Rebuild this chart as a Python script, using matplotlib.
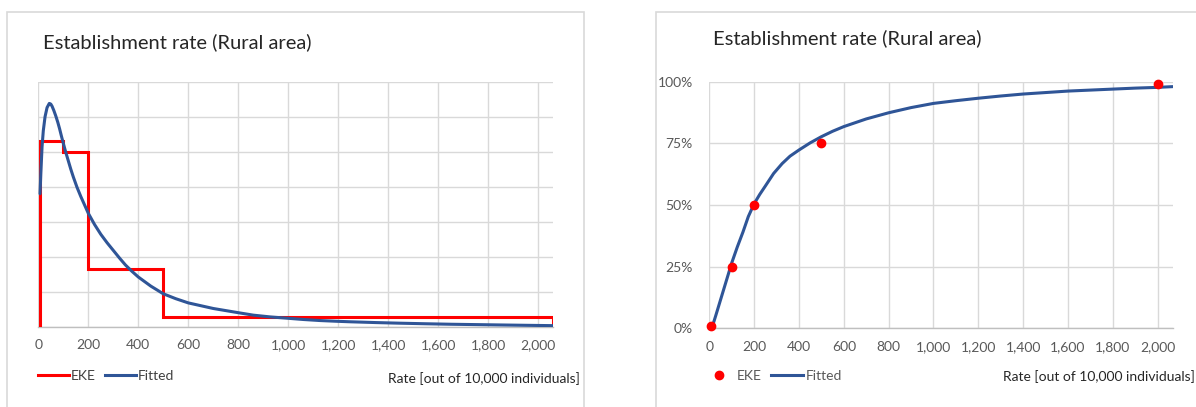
import matplotlib
matplotlib.use("Agg")
import matplotlib.pyplot as plt
from matplotlib.patches import Rectangle
from matplotlib.lines import Line2D
from matplotlib.ticker import FuncFormatter, MultipleLocator

plt.rcParams['font.family'] = ['Lato', 'DejaVu Sans']

# ---------------- data ----------------
title = "Establishment rate (Rural area)"
xlabel = "Rate [out of 10,000 individuals]"

# left panel: EKE histogram (density) and fitted density
eke_edges = [8, 100, 200, 500, 2060]
eke_density = [0.00265, 0.00250, 0.00082, 0.00014]

fit_pdf_x = [7, 10, 15, 20, 27, 35, 44, 50, 55, 62, 70, 78, 85, 92, 100, 110, 120, 130,
             140, 155, 170, 185, 200, 225, 250, 275, 300, 325, 349, 375, 400, 450,
             500, 550, 600, 650, 700, 750, 800, 860, 927, 1000, 1060, 1127, 1190,
             1250, 1350, 1447, 1550, 1650, 1750, 1847, 1950, 2060]
fit_pdf_y = [0.00190, 0.00218, 0.00257, 0.00280, 0.00300, 0.00313, 0.00319, 0.00318,
             0.00315, 0.00309, 0.00301, 0.00292, 0.00283, 0.00273, 0.00262, 0.00249,
             0.00237, 0.00225, 0.00214, 0.00199, 0.00186, 0.00174, 0.00162, 0.00146,
             0.00132, 0.00120, 0.00109, 0.00098, 0.00088, 0.00079, 0.00071, 0.00058,
             0.00047, 0.00040, 0.00034, 0.00030, 0.00026, 0.00023, 0.00020, 0.000165,
             0.000140, 0.000120, 0.000103, 0.000088, 0.000078, 0.000070, 0.000059,
             0.000050, 0.000042, 0.000035, 0.000030, 0.000025, 0.000020, 0.000015]

# right panel: EKE quantiles and fitted CDF
eke_x = [8, 100, 200, 500, 2000]
eke_p = [0.01, 0.25, 0.50, 0.75, 0.99]

fit_cdf_x = [18, 30, 40, 50, 65, 80, 100, 125, 150, 174, 200, 225, 250, 287, 325, 360,
             400, 450, 500, 550, 600, 700, 800, 900, 1000, 1100, 1200, 1300, 1400,
             1500, 1600, 1700, 1800, 1900, 2000, 2067]
fit_cdf_y = [0.02, 0.055, 0.085, 0.115, 0.16, 0.205, 0.265, 0.33, 0.39, 0.453, 0.505,
             0.543, 0.577, 0.628, 0.668, 0.698, 0.723, 0.752, 0.777, 0.799, 0.818,
             0.849, 0.874, 0.895, 0.912, 0.923, 0.933, 0.942, 0.950, 0.956, 0.962,
             0.966, 0.970, 0.974, 0.977, 0.980]

xticks = list(range(0, 2001, 200))
yticks_right = [0, 0.25, 0.5, 0.75, 1.0]

RED = "#FF0000"
BLUE = "#2F5597"
GRID = "#D9D9D9"
TXT = "#595959"

W, H = 1196, 407
fig = plt.figure(figsize=(W / 100, H / 100), dpi=100)

def fx(px):
    return px / W

def fy(py):
    return 1 - py / H

# panel frames
fig.patches.append(Rectangle((fx(7.3), fy(420)), fx(584 - 7.3), (420 - 12.3) / H,
                             transform=fig.transFigure, fill=False, edgecolor=GRID, lw=1.2))
fig.patches.append(Rectangle((fx(656), fy(420)), fx(1210 - 656), (420 - 12.3) / H,
                             transform=fig.transFigure, fill=False, edgecolor=GRID, lw=1.2))

def style_axes(ax):
    for s in ['top', 'right', 'left']:
        ax.spines[s].set_visible(False)
    ax.spines['bottom'].set_color("#BFBFBF")
    ax.spines['bottom'].set_linewidth(1.0)
    ax.grid(True, color=GRID, lw=1.0)
    ax.set_axisbelow(True)
    ax.tick_params(length=0, labelsize=10, labelcolor=TXT, pad=9)
    ax.set_xticks(xticks)
    ax.xaxis.set_major_formatter(FuncFormatter(lambda v, p: f"{int(v):,}"))

# ---------- left ----------
axL = fig.add_axes([fx(38.3), fy(326.7), fx(553.3 - 38.3), (326.7 - 81.7) / H])
style_axes(axL)
axL.set_xlim(0, 2060)
axL.set_ylim(0, 0.0035)
axL.yaxis.set_major_locator(MultipleLocator(0.0005))
axL.tick_params(axis='y', labelleft=False)
axL.stairs(eke_density, eke_edges, baseline=0, fill=False, color=RED, lw=2.2, zorder=3)
axL.plot(fit_pdf_x, fit_pdf_y, color=BLUE, lw=2.2, zorder=4,
         solid_capstyle='round', solid_joinstyle='round')

# ---------- right ----------
axR = fig.add_axes([fx(709.3), fy(328.3), fx(1172.7 - 709.3), (328.3 - 81.7) / H])
style_axes(axR)
axR.set_xlim(0, 2067)
axR.set_ylim(0, 1.0)
axR.set_yticks(yticks_right)
axR.yaxis.set_major_formatter(FuncFormatter(lambda v, p: f"{v:.0%}"))
axR.tick_params(axis='y', pad=12)
axR.plot(fit_cdf_x, fit_cdf_y, color=BLUE, lw=2.2, zorder=3,
         solid_capstyle='round', solid_joinstyle='round')
axR.plot(eke_x, eke_p, 'o', color=RED, ms=6, zorder=4, clip_on=False)

# titles
fig.text(fx(43), fy(42), title, fontsize=14.5, color="#262626", va='center', ha='left')
fig.text(fx(713), fy(38), title, fontsize=14.5, color="#262626", va='center', ha='left')

# x labels
fig.text(fx(580), fy(379), xlabel, fontsize=10, color="#262626", va='center', ha='right')
fig.text(fx(1195), fy(377), xlabel, fontsize=10, color="#262626", va='center', ha='right')

# legends
hL = [Line2D([], [], color=RED, lw=2.2), Line2D([], [], color=BLUE, lw=2.2)]
fig.legend(hL, ["EKE", "Fitted"], loc='center left', bbox_to_anchor=(fx(38), fy(376)),
           ncol=2, frameon=False, fontsize=10, labelcolor="#404040", borderpad=0,
           borderaxespad=0, handlelength=2.2, handletextpad=0.15, columnspacing=0.7)
hR = [Line2D([], [], color=RED, marker='o', ms=6, lw=0),
      Line2D([], [], color=BLUE, lw=2.2)]
fig.legend(hR, ["EKE", "Fitted"], loc='center left', bbox_to_anchor=(fx(702.6), fy(376)),
           ncol=2, frameon=False, fontsize=10, labelcolor=TXT, borderpad=0,
           borderaxespad=0, handlelength=2.3, handletextpad=0.15, columnspacing=0.7)

fig.savefig("out.png", dpi=100)
